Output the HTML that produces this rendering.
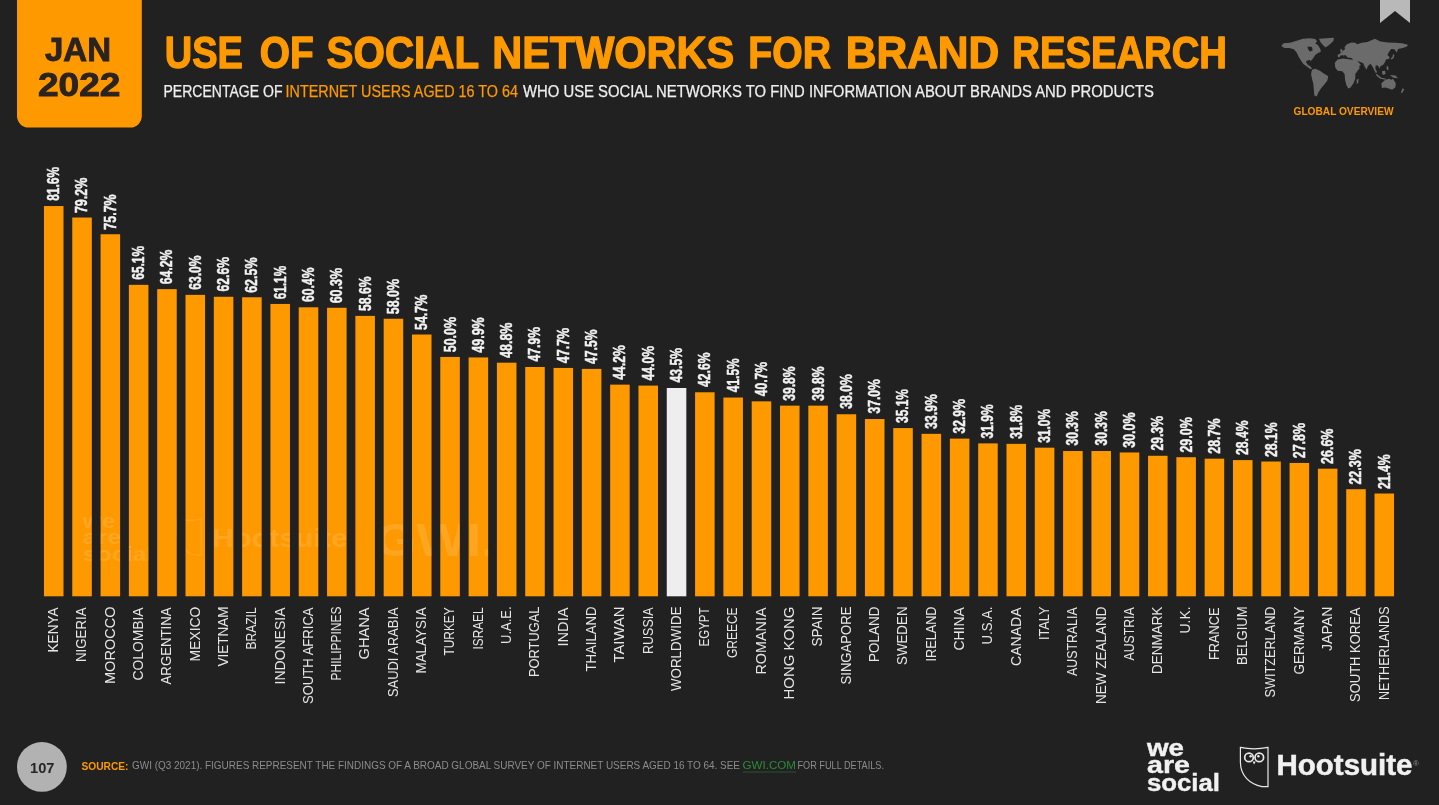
<!DOCTYPE html>
<html lang="en"><head><meta charset="utf-8"><title>Use of social networks for brand research</title>
<style>
html,body{margin:0;padding:0;background:#212121;}
body{width:1439px;height:805px;overflow:hidden;font-family:"Liberation Sans",sans-serif;}
svg{display:block;}
text{font-family:"Liberation Sans",sans-serif;}
.b{font-weight:bold;}
.val{font-weight:bold;font-size:17.4px;fill:#f2f2f2;stroke:#f2f2f2;stroke-width:0.5px;}
.lab{font-size:15.2px;fill:#e6e6e6;}
.ttl{font-weight:bold;font-size:43.6px;fill:#ff9900;stroke:#ff9900;stroke-width:1.3px;stroke-linejoin:round;}
.sub{font-size:15.7px;fill:#efefef;stroke:#efefef;stroke-width:0.25px;}
.src{font-size:11.4px;fill:#8c8c8c;}
</style></head><body>
<svg width="1439" height="805" viewBox="0 0 1439 805">
<rect x="0" y="0" width="1439" height="805" fill="#212121"/>
<path d="M17 0 H141.8 V116 a11.5 11.5 0 0 1 -11.5 11.5 H28.5 a11.5 11.5 0 0 1 -11.5 -11.5 Z" fill="#ff9900"/>
<text class="b" x="45" y="61.3" font-size="33.5" fill="#2a2320" stroke="#2a2320" stroke-width="0.9" textLength="66" lengthAdjust="spacingAndGlyphs">JAN</text>
<text class="b" x="38" y="96" font-size="33.5" fill="#2a2320" stroke="#2a2320" stroke-width="0.9" textLength="82.5" lengthAdjust="spacingAndGlyphs">2022</text>
<g class="ttl">
<text x="164.8" y="67.9" textLength="78.1" lengthAdjust="spacingAndGlyphs">USE</text>
<text x="259.7" y="67.9" textLength="54.0" lengthAdjust="spacingAndGlyphs">OF</text>
<text x="326.6" y="67.9" textLength="152.6" lengthAdjust="spacingAndGlyphs">SOCIAL</text>
<text x="492.2" y="67.9" textLength="242.0" lengthAdjust="spacingAndGlyphs">NETWORKS</text>
<text x="748.3" y="67.9" textLength="82.7" lengthAdjust="spacingAndGlyphs">FOR</text>
<text x="845.8" y="67.9" textLength="153.4" lengthAdjust="spacingAndGlyphs">BRAND</text>
<text x="1012.3" y="67.9" textLength="214.7" lengthAdjust="spacingAndGlyphs">RESEARCH</text>
</g>
<g class="sub">
<text x="163.5" y="96.8" textLength="119" lengthAdjust="spacingAndGlyphs">PERCENTAGE OF</text>
<text x="285.5" y="96.8" fill="#ff9900" stroke="#ff9900" textLength="232.5" lengthAdjust="spacingAndGlyphs">INTERNET USERS AGED 16 TO 64</text>
<text x="523" y="96.8" textLength="631" lengthAdjust="spacingAndGlyphs">WHO USE SOCIAL NETWORKS TO FIND INFORMATION ABOUT BRANDS AND PRODUCTS</text>
</g>
<g>
<rect x="43.95" y="206.06" width="19.55" height="390.24" fill="#ff9900"/>
<rect x="72.26" y="217.52" width="19.55" height="378.78" fill="#ff9900"/>
<rect x="100.57" y="234.23" width="19.55" height="362.07" fill="#ff9900"/>
<rect x="128.88" y="284.85" width="19.55" height="311.45" fill="#ff9900"/>
<rect x="157.19" y="289.14" width="19.55" height="307.16" fill="#ff9900"/>
<rect x="185.50" y="294.87" width="19.55" height="301.43" fill="#ff9900"/>
<rect x="213.81" y="296.78" width="19.55" height="299.52" fill="#ff9900"/>
<rect x="242.12" y="297.26" width="19.55" height="299.04" fill="#ff9900"/>
<rect x="270.43" y="303.95" width="19.55" height="292.35" fill="#ff9900"/>
<rect x="298.74" y="307.29" width="19.55" height="289.01" fill="#ff9900"/>
<rect x="327.05" y="307.77" width="19.55" height="288.53" fill="#ff9900"/>
<rect x="355.36" y="315.88" width="19.55" height="280.42" fill="#ff9900"/>
<rect x="383.67" y="318.75" width="19.55" height="277.55" fill="#ff9900"/>
<rect x="411.98" y="334.51" width="19.55" height="261.79" fill="#ff9900"/>
<rect x="440.29" y="356.95" width="19.55" height="239.35" fill="#ff9900"/>
<rect x="468.60" y="357.43" width="19.55" height="238.87" fill="#ff9900"/>
<rect x="496.91" y="362.68" width="19.55" height="233.62" fill="#ff9900"/>
<rect x="525.22" y="366.98" width="19.55" height="229.32" fill="#ff9900"/>
<rect x="553.53" y="367.93" width="19.55" height="228.37" fill="#ff9900"/>
<rect x="581.84" y="368.89" width="19.55" height="227.41" fill="#ff9900"/>
<rect x="610.15" y="384.64" width="19.55" height="211.66" fill="#ff9900"/>
<rect x="638.46" y="385.60" width="19.55" height="210.70" fill="#ff9900"/>
<rect x="666.77" y="387.99" width="19.55" height="208.31" fill="#eeeeee"/>
<rect x="695.08" y="392.28" width="19.55" height="204.02" fill="#ff9900"/>
<rect x="723.39" y="397.54" width="19.55" height="198.76" fill="#ff9900"/>
<rect x="751.70" y="401.36" width="19.55" height="194.94" fill="#ff9900"/>
<rect x="780.01" y="405.65" width="19.55" height="190.64" fill="#ff9900"/>
<rect x="808.32" y="405.65" width="19.55" height="190.64" fill="#ff9900"/>
<rect x="836.63" y="414.25" width="19.55" height="182.05" fill="#ff9900"/>
<rect x="864.94" y="419.02" width="19.55" height="177.28" fill="#ff9900"/>
<rect x="893.25" y="428.10" width="19.55" height="168.20" fill="#ff9900"/>
<rect x="921.56" y="433.83" width="19.55" height="162.47" fill="#ff9900"/>
<rect x="949.87" y="438.60" width="19.55" height="157.70" fill="#ff9900"/>
<rect x="978.18" y="443.38" width="19.55" height="152.92" fill="#ff9900"/>
<rect x="1006.49" y="443.85" width="19.55" height="152.45" fill="#ff9900"/>
<rect x="1034.80" y="447.67" width="19.55" height="148.62" fill="#ff9900"/>
<rect x="1063.11" y="451.02" width="19.55" height="145.28" fill="#ff9900"/>
<rect x="1091.42" y="451.02" width="19.55" height="145.28" fill="#ff9900"/>
<rect x="1119.73" y="452.45" width="19.55" height="143.85" fill="#ff9900"/>
<rect x="1148.04" y="455.79" width="19.55" height="140.51" fill="#ff9900"/>
<rect x="1176.35" y="457.22" width="19.55" height="139.08" fill="#ff9900"/>
<rect x="1204.66" y="458.66" width="19.55" height="137.64" fill="#ff9900"/>
<rect x="1232.97" y="460.09" width="19.55" height="136.21" fill="#ff9900"/>
<rect x="1261.28" y="461.52" width="19.55" height="134.78" fill="#ff9900"/>
<rect x="1289.59" y="462.95" width="19.55" height="133.34" fill="#ff9900"/>
<rect x="1317.90" y="468.68" width="19.55" height="127.62" fill="#ff9900"/>
<rect x="1346.21" y="489.22" width="19.55" height="107.08" fill="#ff9900"/>
<rect x="1374.52" y="493.51" width="19.55" height="102.78" fill="#ff9900"/>
</g>
<g class="val">
<text transform="translate(59.18 200.80) rotate(-90)" textLength="33.87" lengthAdjust="spacingAndGlyphs">81.6%</text>
<text transform="translate(87.49 213.10) rotate(-90)" textLength="35.33" lengthAdjust="spacingAndGlyphs">79.2%</text>
<text transform="translate(115.80 229.66) rotate(-90)" textLength="35.35" lengthAdjust="spacingAndGlyphs">75.7%</text>
<text transform="translate(144.10 279.74) rotate(-90)" textLength="33.87" lengthAdjust="spacingAndGlyphs">65.1%</text>
<text transform="translate(172.41 284.22) rotate(-90)" textLength="34.44" lengthAdjust="spacingAndGlyphs">64.2%</text>
<text transform="translate(200.72 289.87) rotate(-90)" textLength="34.42" lengthAdjust="spacingAndGlyphs">63.0%</text>
<text transform="translate(229.03 291.42) rotate(-90)" textLength="34.42" lengthAdjust="spacingAndGlyphs">62.6%</text>
<text transform="translate(257.35 292.81) rotate(-90)" textLength="35.35" lengthAdjust="spacingAndGlyphs">62.5%</text>
<text transform="translate(285.65 299.24) rotate(-90)" textLength="33.33" lengthAdjust="spacingAndGlyphs">61.1%</text>
<text transform="translate(313.96 301.95) rotate(-90)" textLength="34.44" lengthAdjust="spacingAndGlyphs">60.4%</text>
<text transform="translate(342.27 303.34) rotate(-90)" textLength="35.33" lengthAdjust="spacingAndGlyphs">60.3%</text>
<text transform="translate(370.58 310.92) rotate(-90)" textLength="34.42" lengthAdjust="spacingAndGlyphs">58.6%</text>
<text transform="translate(398.89 314.25) rotate(-90)" textLength="35.33" lengthAdjust="spacingAndGlyphs">58.0%</text>
<text transform="translate(427.20 330.04) rotate(-90)" textLength="35.33" lengthAdjust="spacingAndGlyphs">54.7%</text>
<text transform="translate(455.51 352.25) rotate(-90)" textLength="35.33" lengthAdjust="spacingAndGlyphs">50.0%</text>
<text transform="translate(483.82 352.64) rotate(-90)" textLength="35.35" lengthAdjust="spacingAndGlyphs">49.9%</text>
<text transform="translate(512.13 357.90) rotate(-90)" textLength="35.33" lengthAdjust="spacingAndGlyphs">48.8%</text>
<text transform="translate(540.45 361.39) rotate(-90)" textLength="34.44" lengthAdjust="spacingAndGlyphs">47.9%</text>
<text transform="translate(568.75 363.16) rotate(-90)" textLength="35.35" lengthAdjust="spacingAndGlyphs">47.7%</text>
<text transform="translate(597.07 363.94) rotate(-90)" textLength="34.44" lengthAdjust="spacingAndGlyphs">47.5%</text>
<text transform="translate(625.38 379.72) rotate(-90)" textLength="34.44" lengthAdjust="spacingAndGlyphs">44.2%</text>
<text transform="translate(653.69 380.50) rotate(-90)" textLength="34.44" lengthAdjust="spacingAndGlyphs">44.0%</text>
<text transform="translate(682.00 382.44) rotate(-90)" textLength="34.44" lengthAdjust="spacingAndGlyphs">43.5%</text>
<text transform="translate(710.31 386.92) rotate(-90)" textLength="34.44" lengthAdjust="spacingAndGlyphs">42.6%</text>
<text transform="translate(738.62 392.19) rotate(-90)" textLength="33.90" lengthAdjust="spacingAndGlyphs">41.5%</text>
<text transform="translate(766.93 396.29) rotate(-90)" textLength="34.44" lengthAdjust="spacingAndGlyphs">40.7%</text>
<text transform="translate(795.24 400.77) rotate(-90)" textLength="34.42" lengthAdjust="spacingAndGlyphs">39.8%</text>
<text transform="translate(823.55 400.77) rotate(-90)" textLength="34.42" lengthAdjust="spacingAndGlyphs">39.8%</text>
<text transform="translate(851.86 408.75) rotate(-90)" textLength="34.44" lengthAdjust="spacingAndGlyphs">38.0%</text>
<text transform="translate(880.17 413.62) rotate(-90)" textLength="34.42" lengthAdjust="spacingAndGlyphs">37.0%</text>
<text transform="translate(908.48 422.99) rotate(-90)" textLength="33.90" lengthAdjust="spacingAndGlyphs">35.1%</text>
<text transform="translate(936.79 428.64) rotate(-90)" textLength="34.42" lengthAdjust="spacingAndGlyphs">33.9%</text>
<text transform="translate(965.10 433.51) rotate(-90)" textLength="34.44" lengthAdjust="spacingAndGlyphs">32.9%</text>
<text transform="translate(993.40 438.39) rotate(-90)" textLength="33.93" lengthAdjust="spacingAndGlyphs">31.9%</text>
<text transform="translate(1021.72 438.77) rotate(-90)" textLength="33.87" lengthAdjust="spacingAndGlyphs">31.8%</text>
<text transform="translate(1050.03 442.87) rotate(-90)" textLength="33.90" lengthAdjust="spacingAndGlyphs">31.0%</text>
<text transform="translate(1078.34 445.59) rotate(-90)" textLength="34.42" lengthAdjust="spacingAndGlyphs">30.3%</text>
<text transform="translate(1106.65 445.59) rotate(-90)" textLength="34.42" lengthAdjust="spacingAndGlyphs">30.3%</text>
<text transform="translate(1134.96 447.75) rotate(-90)" textLength="35.35" lengthAdjust="spacingAndGlyphs">30.0%</text>
<text transform="translate(1163.27 450.46) rotate(-90)" textLength="34.42" lengthAdjust="spacingAndGlyphs">29.3%</text>
<text transform="translate(1191.58 452.62) rotate(-90)" textLength="35.35" lengthAdjust="spacingAndGlyphs">29.0%</text>
<text transform="translate(1219.89 453.79) rotate(-90)" textLength="35.33" lengthAdjust="spacingAndGlyphs">28.7%</text>
<text transform="translate(1248.20 454.95) rotate(-90)" textLength="34.44" lengthAdjust="spacingAndGlyphs">28.4%</text>
<text transform="translate(1276.51 457.11) rotate(-90)" textLength="34.82" lengthAdjust="spacingAndGlyphs">28.1%</text>
<text transform="translate(1304.82 458.27) rotate(-90)" textLength="35.33" lengthAdjust="spacingAndGlyphs">27.8%</text>
<text transform="translate(1333.13 463.92) rotate(-90)" textLength="35.33" lengthAdjust="spacingAndGlyphs">26.6%</text>
<text transform="translate(1361.44 484.59) rotate(-90)" textLength="35.35" lengthAdjust="spacingAndGlyphs">22.3%</text>
<text transform="translate(1389.75 489.07) rotate(-90)" textLength="34.82" lengthAdjust="spacingAndGlyphs">21.4%</text>
</g>
<g class="lab">
<text transform="translate(58.02 652.50) rotate(-90)" textLength="45.09" lengthAdjust="spacingAndGlyphs">KENYA</text>
<text transform="translate(86.34 662.00) rotate(-90)" textLength="54.61" lengthAdjust="spacingAndGlyphs">NIGERIA</text>
<text transform="translate(114.64 684.00) rotate(-90)" textLength="77.50" lengthAdjust="spacingAndGlyphs">MOROCCO</text>
<text transform="translate(142.96 680.50) rotate(-90)" textLength="73.11" lengthAdjust="spacingAndGlyphs">COLOMBIA</text>
<text transform="translate(171.27 684.50) rotate(-90)" textLength="77.18" lengthAdjust="spacingAndGlyphs">ARGENTINA</text>
<text transform="translate(199.58 661.50) rotate(-90)" textLength="54.97" lengthAdjust="spacingAndGlyphs">MEXICO</text>
<text transform="translate(227.89 666.50) rotate(-90)" textLength="60.09" lengthAdjust="spacingAndGlyphs">VIETNAM</text>
<text transform="translate(256.19 649.50) rotate(-90)" textLength="42.10" lengthAdjust="spacingAndGlyphs">BRAZIL</text>
<text transform="translate(284.50 684.50) rotate(-90)" textLength="77.02" lengthAdjust="spacingAndGlyphs">INDONESIA</text>
<text transform="translate(312.81 704.00) rotate(-90)" textLength="96.54" lengthAdjust="spacingAndGlyphs">SOUTH AFRICA</text>
<text transform="translate(341.12 680.50) rotate(-90)" textLength="74.01" lengthAdjust="spacingAndGlyphs">PHILIPPINES</text>
<text transform="translate(369.43 659.50) rotate(-90)" textLength="52.12" lengthAdjust="spacingAndGlyphs">GHANA</text>
<text transform="translate(397.74 697.00) rotate(-90)" textLength="89.62" lengthAdjust="spacingAndGlyphs">SAUDI ARABIA</text>
<text transform="translate(426.05 673.50) rotate(-90)" textLength="66.11" lengthAdjust="spacingAndGlyphs">MALAYSIA</text>
<text transform="translate(454.36 655.50) rotate(-90)" textLength="48.13" lengthAdjust="spacingAndGlyphs">TURKEY</text>
<text transform="translate(482.67 649.50) rotate(-90)" textLength="42.02" lengthAdjust="spacingAndGlyphs">ISRAEL</text>
<text transform="translate(510.98 644.00) rotate(-90)" textLength="37.52" lengthAdjust="spacingAndGlyphs">U.A.E.</text>
<text transform="translate(539.29 677.00) rotate(-90)" textLength="70.47" lengthAdjust="spacingAndGlyphs">PORTUGAL</text>
<text transform="translate(567.60 646.50) rotate(-90)" textLength="39.01" lengthAdjust="spacingAndGlyphs">INDIA</text>
<text transform="translate(595.91 671.50) rotate(-90)" textLength="65.09" lengthAdjust="spacingAndGlyphs">THAILAND</text>
<text transform="translate(624.22 662.50) rotate(-90)" textLength="56.05" lengthAdjust="spacingAndGlyphs">TAIWAN</text>
<text transform="translate(652.53 654.00) rotate(-90)" textLength="46.61" lengthAdjust="spacingAndGlyphs">RUSSIA</text>
<text transform="translate(680.84 691.00) rotate(-90)" textLength="84.54" lengthAdjust="spacingAndGlyphs">WORLDWIDE</text>
<text transform="translate(709.15 646.50) rotate(-90)" textLength="39.12" lengthAdjust="spacingAndGlyphs">EGYPT</text>
<text transform="translate(737.46 658.00) rotate(-90)" textLength="50.59" lengthAdjust="spacingAndGlyphs">GREECE</text>
<text transform="translate(765.77 674.50) rotate(-90)" textLength="67.03" lengthAdjust="spacingAndGlyphs">ROMANIA</text>
<text transform="translate(794.08 699.50) rotate(-90)" textLength="92.95" lengthAdjust="spacingAndGlyphs">HONG KONG</text>
<text transform="translate(822.39 646.50) rotate(-90)" textLength="40.02" lengthAdjust="spacingAndGlyphs">SPAIN</text>
<text transform="translate(850.70 684.50) rotate(-90)" textLength="78.02" lengthAdjust="spacingAndGlyphs">SINGAPORE</text>
<text transform="translate(879.01 662.00) rotate(-90)" textLength="55.52" lengthAdjust="spacingAndGlyphs">POLAND</text>
<text transform="translate(907.32 665.00) rotate(-90)" textLength="58.52" lengthAdjust="spacingAndGlyphs">SWEDEN</text>
<text transform="translate(935.63 661.50) rotate(-90)" textLength="54.97" lengthAdjust="spacingAndGlyphs">IRELAND</text>
<text transform="translate(963.94 650.50) rotate(-90)" textLength="43.15" lengthAdjust="spacingAndGlyphs">CHINA</text>
<text transform="translate(992.25 644.50) rotate(-90)" textLength="37.98" lengthAdjust="spacingAndGlyphs">U.S.A.</text>
<text transform="translate(1020.56 666.00) rotate(-90)" textLength="58.63" lengthAdjust="spacingAndGlyphs">CANADA</text>
<text transform="translate(1048.88 640.00) rotate(-90)" textLength="33.50" lengthAdjust="spacingAndGlyphs">ITALY</text>
<text transform="translate(1077.18 676.00) rotate(-90)" textLength="68.63" lengthAdjust="spacingAndGlyphs">AUSTRALIA</text>
<text transform="translate(1105.50 704.00) rotate(-90)" textLength="97.52" lengthAdjust="spacingAndGlyphs">NEW ZEALAND</text>
<text transform="translate(1133.81 660.50) rotate(-90)" textLength="53.13" lengthAdjust="spacingAndGlyphs">AUSTRIA</text>
<text transform="translate(1162.12 674.00) rotate(-90)" textLength="67.48" lengthAdjust="spacingAndGlyphs">DENMARK</text>
<text transform="translate(1190.42 633.50) rotate(-90)" textLength="27.02" lengthAdjust="spacingAndGlyphs">U.K.</text>
<text transform="translate(1218.74 660.00) rotate(-90)" textLength="52.54" lengthAdjust="spacingAndGlyphs">FRANCE</text>
<text transform="translate(1247.05 665.00) rotate(-90)" textLength="58.49" lengthAdjust="spacingAndGlyphs">BELGIUM</text>
<text transform="translate(1275.36 697.50) rotate(-90)" textLength="90.99" lengthAdjust="spacingAndGlyphs">SWITZERLAND</text>
<text transform="translate(1303.66 674.50) rotate(-90)" textLength="68.05" lengthAdjust="spacingAndGlyphs">GERMANY</text>
<text transform="translate(1331.98 651.00) rotate(-90)" textLength="44.50" lengthAdjust="spacingAndGlyphs">JAPAN</text>
<text transform="translate(1360.29 702.00) rotate(-90)" textLength="94.54" lengthAdjust="spacingAndGlyphs">SOUTH KOREA</text>
<text transform="translate(1388.60 700.00) rotate(-90)" textLength="93.52" lengthAdjust="spacingAndGlyphs">NETHERLANDS</text>
</g>
<circle cx="41.9" cy="766.9" r="24.9" fill="#b2b2b2"/>
<text class="b" x="30" y="773" font-size="15.3" fill="#262626" textLength="24.5" lengthAdjust="spacingAndGlyphs">107</text>
<text class="b" x="81.5" y="769.5" font-size="11.6" fill="#ff9900" textLength="47" lengthAdjust="spacingAndGlyphs">SOURCE:</text>
<g class="src">
<text x="132" y="769.2" textLength="608" lengthAdjust="spacingAndGlyphs">GWI (Q3 2021). FIGURES REPRESENT THE FINDINGS OF A BROAD GLOBAL SURVEY OF INTERNET USERS AGED 16 TO 64. SEE</text>
<text x="742.5" y="769.2" fill="#2c8a38" textLength="53.5" lengthAdjust="spacingAndGlyphs">GWI.COM</text>
<rect x="743" y="771.6" width="53" height="0.8" fill="#2c8a38" opacity="0.6"/>
<text x="797.5" y="769.2" textLength="86.5" lengthAdjust="spacingAndGlyphs">FOR FULL DETAILS.</text>
</g>
<path d="M1380 0 H1410 V23 L1395 11 L1380 23 Z" fill="#b9b9b9"/>
<g transform="translate(1278 34) scale(0.09312)" fill="#6b6b6b">
<path d="M35 130 L60 100 L130 95 L200 72 L270 52 L340 45 L400 55 L420 80 L400 100 L430 120 L455 160 L460 190 L430 205 L400 225 L385 250 L370 270 L352 288 L360 305 L342 278 L312 285 L300 300 L320 330 L345 345 L368 372 L345 375 L310 350 L275 325 L250 290 L225 250 L200 200 L170 165 L120 150 L70 150 Z"/>
<path d="M318 133 L365 140 L372 176 L342 188 L322 160 Z" fill="#212121"/>
<path d="M440 50 L600 40 L595 75 L545 120 L510 145 L480 115 L455 85 Z"/>
<path d="M365 385 L400 372 L450 395 L500 430 L540 455 L530 500 L500 540 L465 580 L435 625 L415 670 L390 660 L385 600 L380 540 L365 480 L355 430 Z"/>
<path d="M610 310 L640 275 L700 262 L760 272 L800 277 L835 287 L850 320 L878 365 L855 395 L830 430 L830 480 L810 530 L780 575 L755 585 L735 550 L720 490 L715 430 L690 400 L640 395 L615 360 Z"/>
<path d="M845 490 L866 480 L862 520 L845 540 Z"/>
<path d="M645 250 L640 225 L675 205 L690 185 L720 165 L715 140 L740 110 L790 90 L830 95 L850 110 L900 95 L960 85 L1040 52 L1100 80 L1180 90 L1260 95 L1330 100 L1395 115 L1385 135 L1340 150 L1290 160 L1275 198 L1250 165 L1215 160 L1190 195 L1175 225 L1200 250 L1185 270 L1160 270 L1150 300 L1130 330 L1100 345 L1090 370 L1075 340 L1050 335 L1045 370 L1065 410 L1050 420 L1030 380 L1010 340 L990 320 L965 345 L950 385 L930 350 L915 315 L885 300 L850 290 L890 330 L860 360 L835 345 L815 300 L805 275 L790 258 L745 252 L730 232 L700 225 L715 250 L695 228 L670 232 L660 250 Z"/>
<path d="M668 165 L688 160 L692 195 L672 200 Z"/>
<path d="M1235 215 L1250 225 L1240 260 L1215 275 L1210 262 L1230 245 Z"/>
<path d="M1050 425 L1075 440 L1110 470 L1160 480 L1155 490 L1100 480 L1060 450 Z"/>
<path d="M1115 400 L1150 395 L1155 430 L1125 440 Z"/>
<path d="M1165 345 L1185 350 L1185 390 L1170 385 Z"/>
<path d="M1200 440 L1260 445 L1290 475 L1240 470 Z"/>
<path d="M1110 530 L1150 495 L1190 480 L1220 490 L1235 480 L1265 530 L1260 575 L1225 600 L1190 585 L1150 575 L1115 580 Z"/>
<path d="M1335 585 L1355 590 L1340 625 L1320 640 L1325 615 Z"/>
</g>
<text class="b" x="1293.5" y="115.2" font-size="11" fill="#ff9900" textLength="100" lengthAdjust="spacingAndGlyphs">GLOBAL OVERVIEW</text>
<clipPath id="barclip">
<rect x="43.95" y="206.06" width="19.55" height="390.24"/>
<rect x="72.26" y="217.52" width="19.55" height="378.78"/>
<rect x="100.57" y="234.23" width="19.55" height="362.07"/>
<rect x="128.88" y="284.85" width="19.55" height="311.45"/>
<rect x="157.19" y="289.14" width="19.55" height="307.16"/>
<rect x="185.50" y="294.87" width="19.55" height="301.43"/>
<rect x="213.81" y="296.78" width="19.55" height="299.52"/>
<rect x="242.12" y="297.26" width="19.55" height="299.04"/>
<rect x="270.43" y="303.95" width="19.55" height="292.35"/>
<rect x="298.74" y="307.29" width="19.55" height="289.01"/>
<rect x="327.05" y="307.77" width="19.55" height="288.53"/>
<rect x="355.36" y="315.88" width="19.55" height="280.42"/>
<rect x="383.67" y="318.75" width="19.55" height="277.55"/>
<rect x="411.98" y="334.51" width="19.55" height="261.79"/>
<rect x="440.29" y="356.95" width="19.55" height="239.35"/>
<rect x="468.60" y="357.43" width="19.55" height="238.87"/>
<rect x="496.91" y="362.68" width="19.55" height="233.62"/>
</clipPath>
<g fill="#ffffff" opacity="0.12" class="b" clip-path="url(#barclip)">
<text x="82.5" y="527.5" font-size="21" textLength="33" lengthAdjust="spacingAndGlyphs">we</text>
<text x="82.5" y="544" font-size="21" textLength="39" lengthAdjust="spacingAndGlyphs">are</text>
<text x="82.5" y="561" font-size="21" textLength="71" lengthAdjust="spacingAndGlyphs">social</text>
<text x="212.5" y="547" font-size="26" textLength="135" lengthAdjust="spacingAndGlyphs">Hootsuite</text>
<text x="375" y="556" font-size="47" textLength="121" lengthAdjust="spacingAndGlyphs">GWI.</text>
<path d="M177 519 C184 520.5 194 520.5 201 519 V555 H196 C185 553 177 545 177 532 Z" fill="none" stroke="#ffffff" stroke-width="1.2"/>
</g>
<g fill="#f1f1f1" class="b" font-size="23" stroke="#f1f1f1" stroke-width="0.4">
<text x="1147" y="756.4" textLength="37" lengthAdjust="spacingAndGlyphs">we</text>
<text x="1147" y="773.4" textLength="43" lengthAdjust="spacingAndGlyphs">are</text>
<text x="1147" y="791.3" textLength="73" lengthAdjust="spacingAndGlyphs">social</text>
</g>
<g fill="none" stroke="#e9e9e9" stroke-width="1.2">
<path d="M1240.4 747.4 C1248 749 1260 749 1268 747.4 V786.6 H1262 C1250 784 1240.4 776 1240.4 762 Z"/>
<circle cx="1249" cy="757.4" r="4.3" stroke-width="1.7"/><circle cx="1259.3" cy="757.4" r="4.3" stroke-width="1.7"/>
</g>
<circle cx="1250.6" cy="756.2" r="1.2" fill="#eeeeee"/><circle cx="1258.4" cy="756.2" r="1.2" fill="#eeeeee"/>
<path d="M1252.6 761.4 H1255.7 L1254.15 764.6 Z" fill="#eeeeee"/>
<text class="b" x="1276.5" y="775.4" font-size="30" fill="#f1f1f1" stroke="#f1f1f1" stroke-width="0.5" textLength="136" lengthAdjust="spacingAndGlyphs">Hootsuite</text>
<text x="1413" y="766" font-size="8" fill="#8f8f8f">®</text>
</svg>
</body></html>
